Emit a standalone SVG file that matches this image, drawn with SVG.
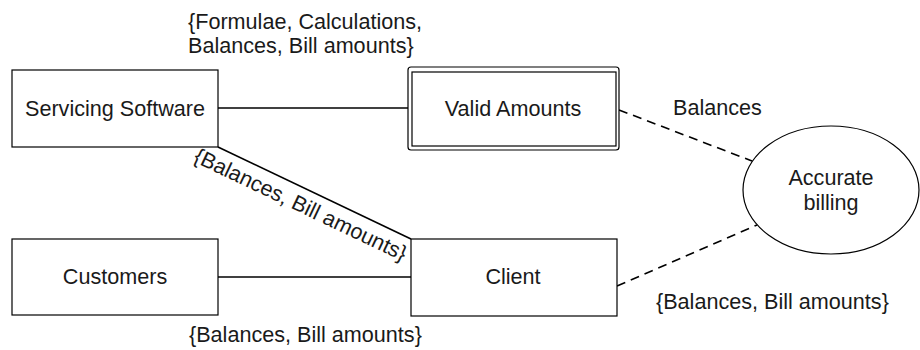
<svg xmlns="http://www.w3.org/2000/svg" width="920" height="350" viewBox="0 0 920 350">
<style>
.box{fill:#fff;stroke:#000;stroke-width:1.2}
.t{font-family:"Liberation Sans",Arial,sans-serif;font-size:21.6px;fill:#1a1a1a}
.m{text-anchor:middle}
.ln{stroke:#000;stroke-width:1.6;fill:none}
.ds{stroke:#000;stroke-width:1.6;fill:none;stroke-dasharray:9 6}
</style>
<rect width="920" height="350" fill="#fff"/>
<g id="connectors">
<line class="ln" x1="218" y1="108" x2="412" y2="108"/>
<line class="ln" x1="218" y1="147" x2="411" y2="239"/>
<line class="ln" x1="218" y1="277" x2="411" y2="277"/>
<line class="ds" x1="619" y1="110" x2="752" y2="161"/>
<line class="ds" x1="617" y1="286" x2="757" y2="225"/>
</g>
<g id="labels">
<text class="t" x="188" y="29">{Formulae, Calculations,</text>
<text class="t" x="188" y="53">Balances, Bill amounts}</text>
<text class="t m" transform="translate(297.5,211.2) rotate(25.5)">{Balances, Bill amounts}</text>
<text class="t" x="189" y="342">{Balances, Bill amounts}</text>
<text class="t" x="673" y="115">Balances</text>
<text class="t" x="656" y="309">{Balances, Bill amounts}</text>
</g>
<g id="servicing-software">
<rect class="box" x="12" y="70" width="206" height="77"/>
<text class="t m" x="115" y="116">Servicing Software</text>
</g>
<g id="valid-amounts">
<rect class="box" x="408" y="67" width="211" height="83" rx="3"/>
<rect class="box" x="412" y="72" width="204" height="74"/>
<text class="t m" x="513" y="116">Valid Amounts</text>
</g>
<g id="customers">
<rect class="box" x="12" y="239" width="206" height="76"/>
<text class="t m" x="115" y="284">Customers</text>
</g>
<g id="client">
<rect class="box" x="411" y="239" width="206" height="77"/>
<text class="t m" x="513" y="284">Client</text>
</g>
<g id="accurate-billing">
<ellipse class="box" cx="831" cy="190" rx="88" ry="64"/>
<text class="t m" x="831" y="185">Accurate</text>
<text class="t m" x="831" y="210">billing</text>
</g>
</svg>
